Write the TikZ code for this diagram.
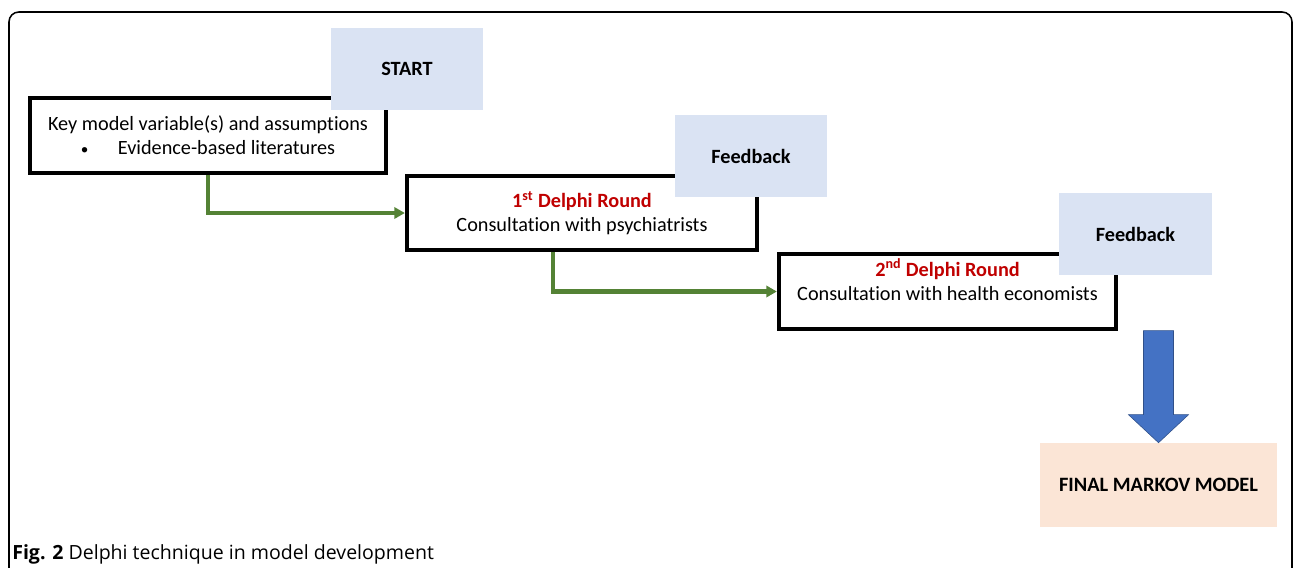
\documentclass[tikz,border=0pt]{standalone}
\usepackage{fontspec}
\usepackage{graphicx}
\setmainfont{Carlito}[Ligatures={NoCommon}]
\newfontfamily\capfont{Open Sans}
\usetikzlibrary{arrows.meta,calc}
\definecolor{feedblue}{HTML}{DAE3F3}
\definecolor{finalpeach}{HTML}{FBE5D6}
\definecolor{roundred}{HTML}{C00000}
\definecolor{linkgreen}{HTML}{548235}
\definecolor{arrowblue}{HTML}{4472C4}
\tikzset{
  stage/.style={draw=black, line width=3pt, fill=white, align=center, inner sep=0pt,
    font=\fontsize{14.4}{17}\selectfont},
  tag/.style={fill=feedblue, minimum width=3.8cm, minimum height=2.05cm,
    font=\fontsize{14.4}{17}\selectfont\bfseries},
  link/.style={->, draw=linkgreen, line width=3pt},
}
\begin{document}
\begin{tikzpicture}[x=0.025cm, y=-0.025cm, >={Triangle[length=7.5pt,width=8pt]}]
\useasboundingbox (0,0) rectangle (1293,567);
\draw[line width=1.1pt, rounded corners=7pt] (9,590)--(9,12)--(1292,12)--(1292,590);
\node[stage, minimum width=8.9cm, minimum height=1.875cm] (vars) at (208,135.5)
  {Key model variable(s) and assumptions\\ \scalebox{0.75}{\textbullet}\hspace{1.45em}Evidence-based literatures};
\node[tag] (start) at (407,69) {START};
\node[stage, minimum width=8.75cm, minimum height=1.85cm] (round1) at (582,213)
  {\textcolor{roundred}{\bfseries 1\textsuperscript{st} Delphi Round}\\ Consultation with psychiatrists};
\node[tag] (feed1) at (751,156) {Feedback};
\node[stage, minimum width=8.425cm, minimum height=1.875cm] (round2) at (947.5,291.5)
  {\textcolor{roundred}{\bfseries 2\textsuperscript{nd} Delphi Round}\\ Consultation with health economists\\ \mbox{}};
\node[tag] (feed2) at (1135.5,234) {Feedback};
\node[fill=finalpeach, minimum width=5.925cm, minimum height=2.1cm,
  font=\fontsize{14.5}{17}\selectfont\bfseries] (final) at (1158.5,485) {FINAL MARKOV MODEL};
\draw[link] (vars.south) |- (round1.west);
\draw[link] ([xshift=-0.725cm]round1.south) |- (round2.west);
\filldraw[fill=arrowblue, draw=arrowblue!70!black, line width=0.4pt] (final.north)
  -- ++(-30,-28) -- ++(15,0) -- ++(0,-84) -- ++(30,0) -- ++(0,84) -- ++(15,0) -- cycle;
\node[anchor=base west, inner sep=0pt, font=\capfont\fontsize{13.9}{16}\selectfont] (caption) at (12,559)
  {\textbf{Fig. 2} Delphi technique in model development};
\end{tikzpicture}
\end{document}
